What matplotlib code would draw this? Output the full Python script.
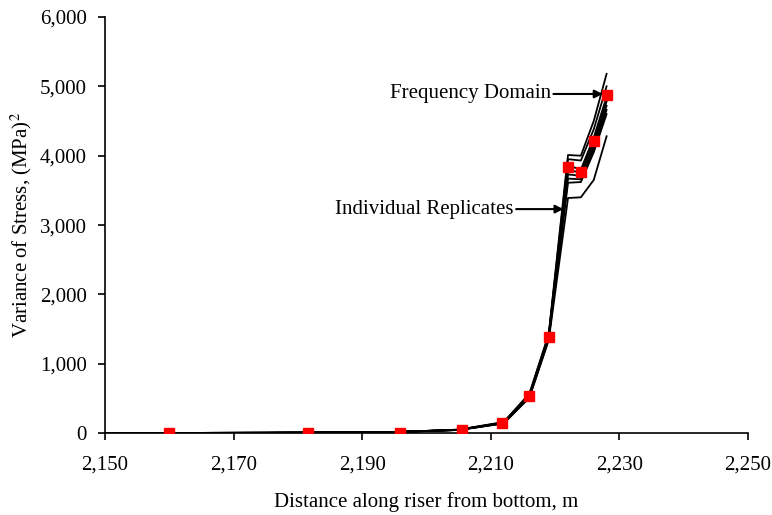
import matplotlib
matplotlib.use("Agg")
import matplotlib.pyplot as plt
from matplotlib.ticker import FuncFormatter, MultipleLocator

plt.rcParams['font.family'] = ['Liberation Serif', 'DejaVu Serif']
plt.rcParams['mathtext.fontset'] = 'stix'

# Distance along riser (m) and stress variance (MPa^2)
freq_x = [2160, 2181.5, 2195.8, 2205.5, 2211.8, 2216, 2219, 2222, 2224, 2226, 2228]
freq_y = [5, 5, 5, 40, 150, 540, 1390, 3830, 3770, 4210, 4880]

rep_x = [2150, 2175, 2195, 2205, 2212, 2216, 2219, 2222, 2224, 2226, 2228]
replicates = [
    [0, 5, 15, 50, 160, 570, 1430, 4010, 4000, 4500, 5180],
    [0, 5, 15, 50, 155, 560, 1410, 3950, 3930, 4380, 5000],
    [0, 5, 15, 48, 150, 550, 1400, 3860, 3800, 4260, 4850],
    [0, 5, 15, 48, 150, 545, 1390, 3790, 3760, 4200, 4780],
    [0, 5, 15, 46, 145, 540, 1380, 3730, 3710, 4150, 4720],
    [0, 5, 15, 46, 145, 530, 1370, 3670, 3660, 4100, 4660],
    [0, 5, 15, 45, 140, 520, 1360, 3610, 3620, 4050, 4600],
    [0, 5, 15, 45, 140, 510, 1340, 3390, 3400, 3650, 4280],
]

x_ticks = list(range(2150, 2251, 20))

fig = plt.figure(figsize=(7.72, 5.15), dpi=100)
ax = fig.add_axes([0.136, 0.159, 0.833, 0.808])

for ys in replicates:
    ax.plot(rep_x, ys, color='black', lw=1.3, zorder=2)
ax.plot(freq_x, freq_y, ls='none', marker='s', ms=6.5, color='#ff0000',
        mec='#ff0000', zorder=3)

arrow = dict(arrowstyle='-|>', color='black', lw=1.5,
             shrinkA=0, shrinkB=0, mutation_scale=12)
ax.annotate('Frequency Domain', xy=(2227.4, 4890), xytext=(2219.3, 4890),
            ha='right', va='center', fontsize=15, arrowprops=arrow)
ax.annotate('Individual Replicates', xy=(2221.3, 3230), xytext=(2213.5, 3230),
            ha='right', va='center', fontsize=15, arrowprops=arrow)

ax.set_xlim(2150, 2250)
ax.set_ylim(0, 6000)
ax.set_xticks(x_ticks)
ax.yaxis.set_major_locator(MultipleLocator(1000))
comma = FuncFormatter(lambda v, p: '{:,.0f}'.format(v))
ax.xaxis.set_major_formatter(comma)
ax.yaxis.set_major_formatter(comma)
ax.tick_params(direction='out', length=5, width=1.2, labelsize=15)
ax.tick_params(axis='x', pad=11)
ax.tick_params(axis='y', pad=8)

for side in ('top', 'right'):
    ax.spines[side].set_visible(False)
for side in ('left', 'bottom'):
    ax.spines[side].set_linewidth(1.2)

ax.set_xlabel('Distance along riser from bottom, m', fontsize=15, labelpad=13)
ax.set_ylabel('Variance of Stress, (MPa)$^2$', fontsize=15, labelpad=4)

fig.savefig('out.png', dpi=100)
